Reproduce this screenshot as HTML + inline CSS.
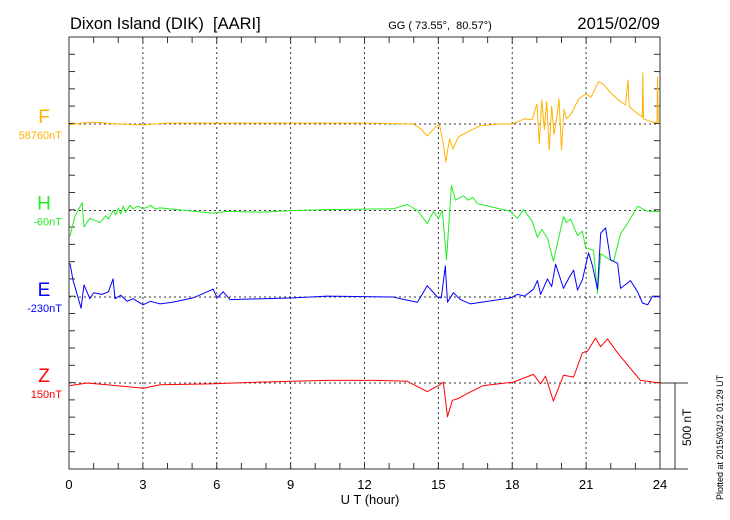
<!DOCTYPE html>
<html><head><meta charset="utf-8"><style>
body{margin:0;background:#fff}
svg{display:block;font-family:"Liberation Sans",sans-serif}
</style></head><body>
<svg id="c" width="730" height="520">
<text x="70" y="29" font-size="16.5">Dixon Island (DIK)&#160;&#160;[AARI]</text>
<text x="440" y="29" font-size="11" text-anchor="middle">GG ( 73.55°,&#160;&#160;80.57°)</text>
<text x="660" y="29" font-size="16.5" text-anchor="end">2015/02/09</text>
<text x="370" y="504" font-size="13" text-anchor="middle">U T (hour)</text>
<text transform="translate(723,500) rotate(-90)" font-size="9">Plotted at 2015/03/12 01:29 UT</text>
<text transform="translate(691,446) rotate(-90)" font-size="12">500 nT</text>
</svg>
<script>
const xTicks=[0,3,6,9,12,15,18,21,24];
const components=['F','H','E','Z'];
const baseLabels=['58760nT','-60nT','-230nT','150nT'];
const fT=[0,0.5,1,2,3,4,8,12,14,14.3,14.55,14.9,15.05,15.2,15.3,15.45,15.6,15.8,16.2,16.7,17.5,18,18.5,18.8,19.0,19.1,19.2,19.3,19.4,19.5,19.6,19.7,19.8,19.9,20.0,20.1,20.2,20.4,20.7,21.0,21.2,21.5,21.7,22.0,22.3,22.6,22.7,22.75,23.0,23.28,23.3,23.33,23.7,23.88,23.9,23.93,24];
const fV=[-5,5,10,0,-5,5,5,5,0,-30,-70,-15,-5,-115,-220,-85,-145,-75,-45,-10,0,0,30,25,115,-115,140,-30,130,-150,105,-60,30,145,-150,85,30,60,145,175,155,245,230,180,140,110,255,100,70,40,295,30,10,10,270,10,5];
const hT=[0.04,0.24,0.53,0.61,0.85,1.26,1.5,1.6,1.79,1.9,2.0,2.1,2.2,2.3,2.48,2.6,2.8,3.01,3.2,3.3,3.5,3.7,4.39,5.85,6.42,7.76,9.11,10.49,13.17,13.74,14.15,14.55,14.8,15.0,15.16,15.33,15.53,15.69,16.02,16.2,16.4,16.59,17.93,18.21,18.46,18.8,19.02,19.2,19.43,19.67,20.08,20.2,20.37,20.65,20.85,20.98,21.30,21.46,21.59,21.91,22.11,22.40,22.68,23.09,23.50,24];
const hV=[-150,-35,45,-95,-45,-70,-30,-50,0,-25,15,-20,25,-10,30,10,25,10,20,30,10,15,5,-15,-5,-10,0,5,10,35,0,-75,-5,-45,0,-285,145,60,85,60,75,40,-5,-45,5,-60,-155,-110,-160,-295,-35,-70,-50,-145,-120,-215,-230,-480,-250,-280,-295,-135,-75,25,-5,-5];
const eT=[0.04,0.16,0.49,0.61,0.85,1.0,1.34,1.6,1.79,1.87,2.1,2.36,2.6,3.01,3.3,3.70,4.2,5.04,5.85,6.02,6.26,6.54,9.11,10.49,13.17,13.46,14.15,14.55,14.96,15.12,15.28,15.37,15.61,15.9,16.30,17.93,18.21,18.5,18.86,19.02,19.15,19.43,19.6,19.76,20.08,20.3,20.49,20.65,20.85,21.10,21.26,21.46,21.59,21.79,21.99,22.28,22.40,22.80,23.09,23.29,23.50,23.70,24];
const eV=[195,100,-65,70,-10,25,15,30,105,-10,10,-25,-10,-45,-25,-40,-30,-5,45,-5,30,-15,-5,5,0,-10,-30,65,0,-5,180,-30,25,-15,-40,-5,15,5,45,95,15,105,60,190,50,110,155,40,100,255,180,45,370,400,215,195,50,95,30,-35,-45,5,0];
const zT=[0.04,0.73,1.54,3.01,3.70,5.73,7.76,9.11,10.49,12.52,13.74,14.55,15.0,15.2,15.37,15.57,15.81,16.18,16.83,18.05,18.86,19.15,19.35,19.67,20.08,20.49,20.85,21.06,21.38,21.59,21.87,22.28,22.68,23.21,24];
const zV=[-15,0,-10,-30,-10,-5,5,10,15,15,10,-50,-15,5,-195,-100,-90,-60,-15,5,50,-5,40,-105,45,35,175,185,260,210,255,175,105,15,0];
const seriesT=[fT,hT,eT,zT];
const seriesV=[fV,hV,eV,zV];
const colors=['#ffb300','#22ee22','#0000ff','#ff0000'];
const L=69,R=660,T=37,B=469;
const baseY=[124,210.5,297,383];
const pxPerNT=86.4/500;
const xs=h=>L+(R-L)*h/24;
const ys=(i,v)=>baseY[i]-v*pxPerNT;
const svg=document.getElementById('c');
const NS='http://www.w3.org/2000/svg';
function mk(tag,attrs,parent){const e=document.createElementNS(NS,tag);for(const k in attrs)e.setAttribute(k,attrs[k]);(parent||svg).appendChild(e);return e;}
xTicks.slice(1,-1).forEach(h=>{
 const g=mk('line',{x1:xs(h),x2:xs(h),y1:T,y2:B,stroke:'#333','stroke-width':1,'stroke-dasharray':'2,3'});
 
 
});
baseY.forEach(y=>{
 const g=mk('line',{x1:L,x2:R,y1:y,y2:y,stroke:'#333','stroke-width':1,'stroke-dasharray':'2,3'});
 
 
});
const fr=mk('rect',{x:L,y:T,width:R-L,height:B-T,fill:'none',stroke:'#333','stroke-width':1});


for(let h=1;h<24;h++){
 const t1=mk('line',{x1:xs(h),x2:xs(h),y1:T,y2:T+6,stroke:'#333'});
 
 
 const t2=mk('line',{x1:xs(h),x2:xs(h),y1:B,y2:B-6,stroke:'#333'});
 
 
}
for(let k=1;k<25;k++){
 const y=T+k*(B-T)/25;
 const a=mk('line',{x1:L,x2:L+6,y1:y,y2:y,stroke:'#333'});
 
 
 const b=mk('line',{x1:R,x2:R-6,y1:y,y2:y,stroke:'#333'});
 
 
}
xTicks.forEach(h=>{
 const t=mk('text',{x:xs(h),y:489,'font-size':13,'text-anchor':'middle'});
 t.textContent=h;
 
 
});
const sb=mk('path',{d:`M${R} ${baseY[3]}H688M675 ${baseY[3]}V${B}M${R} ${B}H688`,stroke:'#333',fill:'none'});


components.forEach((c,i)=>{
 const d=seriesT[i].map((t,j)=>(j?'L':'M')+xs(t).toFixed(1)+' '+ys(i,seriesV[i][j]).toFixed(1)).join('');
 const p=mk('path',{d:d,fill:'none',stroke:colors[i],'stroke-width':1,'stroke-linejoin':'round'});
 
 
 const l=mk('text',{x:44,y:baseY[i]-1,'font-size':19,fill:colors[i],'text-anchor':'middle'});
 l.textContent=c;
 
 
 const b=mk('text',{x:62,y:baseY[i]+15,'font-size':11,fill:colors[i],'text-anchor':'end'});
 b.textContent=baseLabels[i];
 
 
});
</script>
</body></html>
